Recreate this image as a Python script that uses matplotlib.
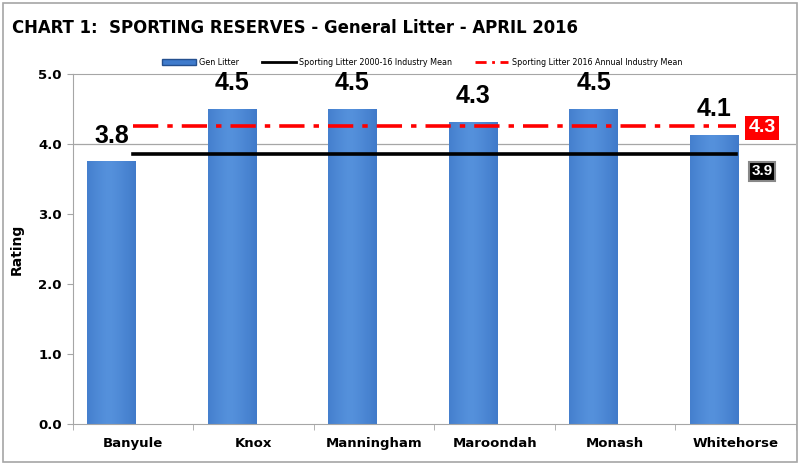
import numpy as np
import matplotlib
matplotlib.use("Agg")
import matplotlib.pyplot as plt
from matplotlib.patches import Rectangle
from matplotlib.lines import Line2D

# chart data
councils = ["Banyule", "Knox", "Manningham", "Maroondah", "Monash", "Whitehorse"]
gen_litter = [3.75, 4.5, 4.5, 4.31, 4.5, 4.13]
industry_mean_2000_16 = 3.86
annual_mean_2016 = 4.26

fig = plt.figure(figsize=(8, 4.65), dpi=100)
ax = fig.add_axes([0.091, 0.088, 0.904, 0.753])

x = np.arange(len(councils))
bar_off = -0.18
bar_w = 0.4

# bars with a horizontal shading, like the Excel bevel
grad = np.linspace(0, 1, 64)
shade = 1 - 0.55 * np.abs(grad - 0.45) ** 1.3
cmap = matplotlib.colors.LinearSegmentedColormap.from_list(
    "blues", ["#24508f", "#3a74c4", "#5591dc"])
bars = ax.bar(x + bar_off, gen_litter, width=bar_w, color="#3f7bcc",
              edgecolor="none", zorder=2)
for b in bars:
    x0, w, h = b.get_x(), b.get_width(), b.get_height()
    im = ax.imshow(shade[np.newaxis, :], extent=[x0, x0 + w, 0, h],
                   aspect="auto", cmap=cmap, vmin=0.35, vmax=1, zorder=2.1)
    im.set_clip_path(b)

for xi, v in zip(x, gen_litter):
    ax.text(xi + bar_off, v + 0.27, f"{v:.1f}", ha="center", va="baseline",
            fontsize=18, fontweight="bold", family="Liberation Sans", zorder=5)

ax.plot([x[0], x[-1]], [industry_mean_2000_16] * 2, color="black", lw=2.6,
        zorder=3)
ax.plot([x[0], x[-1]], [annual_mean_2016] * 2, color="#ff0000", lw=2.6,
        dashes=(7, 2.5, 1.5, 2.5), zorder=3)

ax.text(x[-1] + 0.22, annual_mean_2016 - 0.03, f"{annual_mean_2016:.1f}",
        ha="center", va="center", fontsize=14, fontweight="bold", color="white",
        family="Liberation Sans",
        bbox=dict(boxstyle="square,pad=0.18", fc="#ff0000", ec="none"), zorder=6)
ax.text(x[-1] + 0.22, industry_mean_2000_16 - 0.25, f"{industry_mean_2000_16:.1f}",
        ha="center", va="center", fontsize=11, fontweight="bold", color="white",
        family="Liberation Sans",
        bbox=dict(boxstyle="square,pad=0.15", fc="black", ec="#888888", lw=1.5),
        zorder=6)

ax.axhline(4.0, color="#a6a6a6", lw=0.9, zorder=1)

ax.set_xlim(-0.5, 5.5)
ax.set_ylim(0, 5)
ax.set_yticks(np.arange(0, 5.01, 1.0))
ax.set_yticklabels([f"{t:.1f}" for t in np.arange(0, 5.01, 1.0)],
                   fontweight="bold", fontsize=9.5)
ax.set_xticks(x)
ax.set_xticklabels(councils, fontweight="bold", fontsize=9.5)
ax.set_xticks(np.arange(-0.5, 5.6, 1), minor=True)
ax.tick_params(axis="x", which="major", length=0, pad=9)
ax.tick_params(axis="x", which="minor", length=4, color="#a6a6a6")
ax.tick_params(axis="y", length=4, color="#a6a6a6", pad=4)
ax.set_ylabel("Rating", fontweight="bold", fontsize=10, labelpad=10)

for s in ["left", "bottom", "top"]:
    ax.spines[s].set_color("#a6a6a6")
ax.spines["right"].set_visible(False)

fig.text(0.015, 0.94, "CHART 1:  SPORTING RESERVES - General Litter - APRIL 2016",
         fontsize=13.2, fontweight="bold", family="DejaVu Sans",
         fontstretch="condensed", va="center")

handles = [
    Rectangle((0, 0), 1, 1, fc="#3f7bcc", ec="#24508f"),
    Line2D([], [], color="black", lw=2),
    Line2D([], [], color="#ff0000", lw=2, dashes=(4, 2, 1, 2)),
]
labels = ["Gen Litter", "Sporting Litter 2000-16 Industry Mean",
          "Sporting Litter 2016 Annual Industry Mean"]
fig.legend(handles, labels, loc="center left", bbox_to_anchor=(0.203, 0.866),
           ncol=3, frameon=False, fontsize=5.8, handlelength=4.2,
           handleheight=0.6, columnspacing=2.8, handletextpad=0.4,
           borderaxespad=0, borderpad=0)

# chart border
fig.patches.append(Rectangle((0.004, 0.006), 0.992, 0.988,
                             transform=fig.transFigure, fill=False,
                             ec="#a6a6a6", lw=1.2))

fig.savefig("out.png", dpi=100)
